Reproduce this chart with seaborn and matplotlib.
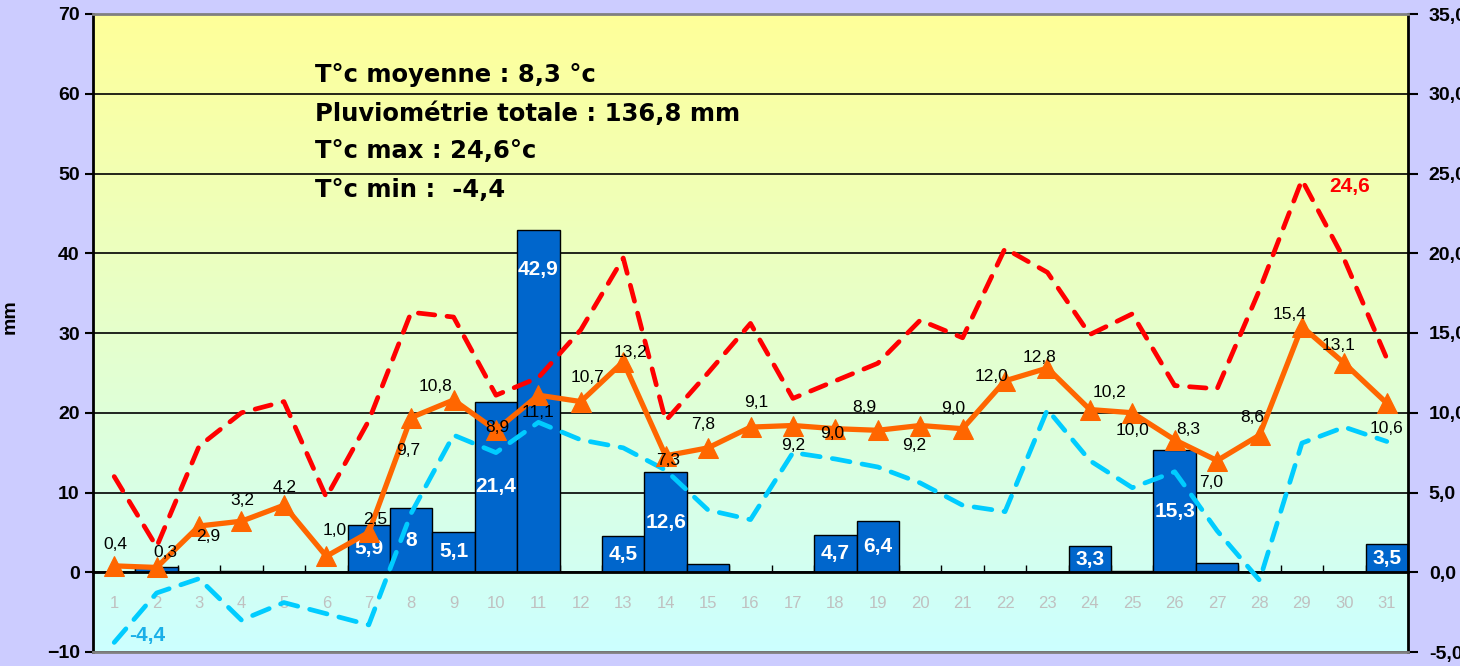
import numpy as np
import pandas as pd
import matplotlib
matplotlib.use("Agg")
import matplotlib.pyplot as plt
import seaborn as sns
from matplotlib.colors import LinearSegmentedColormap
from matplotlib.ticker import FuncFormatter, MultipleLocator

# données du mois
jours = list(range(1, 32))
pluie_mm = [0, 0.6, 0, 0.2, 0, 0, 5.9, 8, 5.1, 21.4, 42.9, 0, 4.5, 12.6, 1.0, 0,
            0, 4.7, 6.4, 0, 0, 0, 0, 3.3, 0.2, 15.3, 1.2, 0, 0, 0, 3.5]
t_moy = [0.4, 0.3, 2.9, 3.2, 4.2, 1.0, 2.5, 9.7, 10.8, 8.9, 11.1, 10.7, 13.2, 7.3,
         7.8, 9.1, 9.2, 9.0, 8.9, 9.2, 9.0, 12.0, 12.8, 10.2, 10.0, 8.3, 7.0, 8.6,
         15.4, 13.1, 10.6]
t_max = [6.0, 1.6, 7.9, 10.0, 10.7, 4.7, 9.5, 16.3, 16.0, 11.1, 12.2, 15.2, 19.7,
         9.5, 12.5, 15.6, 10.9, 12.0, 13.1, 15.8, 14.7, 20.3, 18.8, 14.9, 16.2,
         11.7, 11.5, 17.7, 24.6, 19.6, 13.4]
t_min = [-4.4, -1.3, -0.4, -3.0, -1.9, -2.6, -3.3, 3.7, 8.6, 7.5, 9.4, 8.3, 7.8,
         6.4, 3.9, 3.3, 7.5, 7.1, 6.6, 5.6, 4.2, 3.8, 10.2, 7.0, 5.3, 6.3, 2.6,
         -0.5, 8.1, 9.1, 8.2]
resume = ["T°c moyenne : 8,3 °c", "Pluviométrie totale : 136,8 mm",
          "T°c max : 24,6°c", "T°c min :  -4,4"]

# décalage (pixels) des étiquettes de la T° moyenne
decal = [(1, 21), (9, 15), (9, -11), (1, 21), (1, 18), (8, 26), (6, 13), (-3, -33),
         (-18, 13), (1, 3), (0, -17), (7, 24), (7, 9), (2, -5), (-5, 23), (6, 25),
         (0, -20), (-3, -5), (-13, 23), (-6, -20), (-9, 20), (-14, 4), (-8, 11),
         (20, 17), (0, -18), (14, 10), (-6, -22), (-7, 18), (-12, 12), (-6, 18),
         (0, -25)]

df = pd.DataFrame({"jour": jours, "pluie": pluie_mm, "moy": t_moy,
                   "max": t_max, "min": t_min})

sns.set_theme(style="white")
plt.rcParams['font.family'] = ['Liberation Sans', 'DejaVu Sans']
plt.rcParams['text.color'] = 'black'
fr = lambda v, p: f"{v:.1f}".replace(".", ",")

fig = plt.figure(figsize=(14.6, 6.66), dpi=100, facecolor='#CCCCFF')
ax = fig.add_axes([93 / 1460, 14 / 666, 1315 / 1460, 638 / 666])

# fond dégradé jaune -> cyan
cmap = LinearSegmentedColormap.from_list("fond", ["#CCFFFF", "#FFFF99"])
ax.imshow(np.linspace(0, 1, 256).reshape(-1, 1), cmap=cmap, origin='lower',
          extent=[0, 1, 0, 1], transform=ax.transAxes, aspect='auto', zorder=0)

# barres pluie
sns.barplot(data=df, x="jour", y="pluie", native_scale=True, width=1.0,
            color="#0066CC", saturation=1, edgecolor="black", linewidth=1, ax=ax)
for j, v in zip(jours, pluie_mm):
    if v >= 3:
        y = v - 5 if v > 30 else v / 2
        ax.text(j, y, f"{v:g}".replace(".", ","), color="white", fontsize=15,
                fontweight="bold", ha="center", va="center", zorder=3)

ax.set_xlim(0.5, 31.5)
ax.set_ylim(-10, 70)
ax.yaxis.set_major_locator(MultipleLocator(10))
ax.set_axisbelow(True)
ax.grid(axis='y', color='black', lw=1.2)
ax.grid(axis='x', visible=False)
ax.set_xlabel("")
ax.set_ylabel("")
ax.set_xticks(jours)
ax.set_xticklabels([str(j) for j in jours])
ax.set_xticks(np.arange(1.5, 31.5, 1), minor=True)
ax.tick_params(axis='x', which='major', length=0, pad=17, labelsize=12,
               labelcolor='#C0C0C0')
ax.tick_params(axis='x', which='minor', direction='in', length=5, width=1,
               color='black', bottom=True)
ax.tick_params(axis='y', direction='out', length=6, width=1.5, color='black',
               labelsize=14, labelcolor='black', left=True)
for lab in ax.get_yticklabels():
    lab.set_fontweight('bold')
ax.spines['bottom'].set_position(('data', 0))
ax.spines['bottom'].set_color('black')
ax.spines['bottom'].set_linewidth(2)
ax.spines['left'].set_color('black')
ax.spines['left'].set_linewidth(2)
ax.spines['top'].set_visible(False)
ax.spines['right'].set_visible(False)

# températures sur l'axe de droite
ax2 = ax.twinx()
sns.lineplot(data=df, x="jour", y="max", ax=ax2, color="#FF0000", lw=3.4,
             linestyle=(0, (3.5, 2.6)), dash_capstyle='round')
sns.lineplot(data=df, x="jour", y="min", ax=ax2, color="#00CCFF", lw=3.4,
             linestyle=(0, (3.8, 2.6)), dash_capstyle='round')
sns.lineplot(data=df, x="jour", y="moy", ax=ax2, color="#FF6600", lw=3.8,
             marker="^", markersize=14, markeredgecolor="#FF6600")
for j, v, (dx, dy) in zip(jours, t_moy, decal):
    ax2.annotate(f"{v:.1f}".replace(".", ","), (j, v), xytext=(dx, dy),
                 textcoords='offset pixels', ha='center', va='center',
                 fontsize=12.5, color='black')
imax = int(np.argmax(t_max))
ax2.annotate(fr(t_max[imax], None), (jours[imax], t_max[imax]), xytext=(48, -7),
             textcoords='offset pixels', ha='center', va='center', fontsize=15,
             fontweight='bold', color='#FF0000')
imin = int(np.argmin(t_min))
ax2.annotate(fr(t_min[imin], None), (jours[imin], t_min[imin]), xytext=(33, 7),
             textcoords='offset pixels', ha='center', va='center', fontsize=15,
             fontweight='bold', color='#1AAFE8')

ax2.set_ylim(-5, 35)
ax2.yaxis.set_major_locator(MultipleLocator(5))
ax2.yaxis.set_major_formatter(FuncFormatter(fr))
ax2.set_xlabel("")
ax2.set_ylabel("")
ax2.tick_params(axis='y', direction='out', length=7, width=1.5, color='black',
                labelsize=14, labelcolor='black', right=True, pad=8)
for lab in ax2.get_yticklabels():
    lab.set_fontweight('bold')
ax2.spines['right'].set_color('black')
ax2.spines['right'].set_linewidth(2)
ax2.spines['left'].set_visible(False)
ax2.spines['top'].set_color('#808080')
ax2.spines['top'].set_linewidth(2)
ax2.spines['bottom'].set_color('#808080')
ax2.spines['bottom'].set_linewidth(2)

# encadré de synthèse
for i, txt in enumerate(resume):
    ax.text(0.169, 0.904 - i * 0.0597, txt, transform=ax.transAxes, fontsize=17.5,
            fontweight='bold', color='black', va='center', ha='left', zorder=4,
            family=['DejaVu Sans'])

fig.text(10 / 1460, 1 - 317 / 666, "mm", rotation=90, fontsize=14,
         fontweight='bold', color='black', ha='center', va='center')

fig.savefig("out.png", dpi=100, facecolor=fig.get_facecolor())
